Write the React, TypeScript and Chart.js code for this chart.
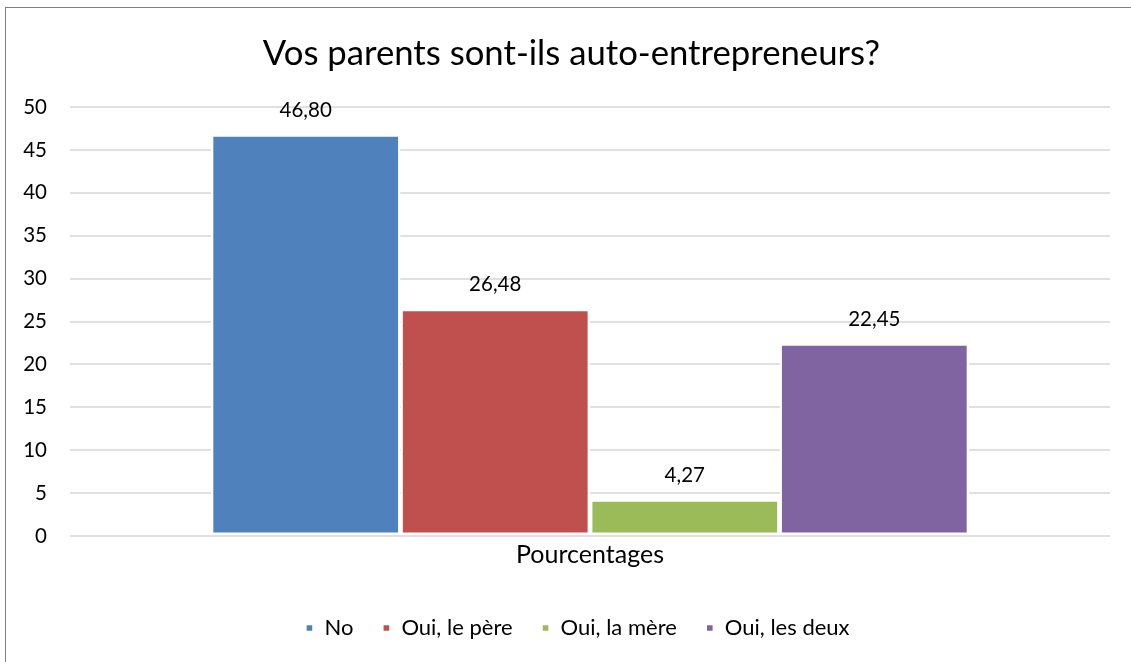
import React, { useEffect, useRef } from 'react';
import { Chart, registerables } from 'chart.js';

Chart.register(...registerables);

const titleText = 'Vos parents sont-ils auto-entrepreneurs?';
const categories = ['Pourcentages'];
const seriesNames = ['No', 'Oui, le père', 'Oui, la mère', 'Oui, les deux'];
const seriesValues = [46.8, 26.48, 4.27, 22.45];
const seriesColors = ['#4F81BD', '#C0504D', '#9BBB59', '#8064A2'];
const yMin = 0;
const yMax = 50;
const yStep = 5;

const FONT = 'Lato';

const fmt = (v: number) => v.toFixed(2).replace('.', ',');

const decorPlugin = {
  id: 'decor',
  beforeDraw(chart: any) {
    const ctx = chart.ctx;
    ctx.save();
    ctx.fillStyle = '#ffffff';
    ctx.fillRect(0, 0, chart.width, chart.height);
    ctx.strokeStyle = '#7f7f7f';
    ctx.lineWidth = 1;
    ctx.strokeRect(5.5, 7.5, 2000, 2000);
    ctx.restore();
  },
  afterLayout(chart: any) {
    if (chart.legend) {
      chart.legend.left += 22.5;
      chart.legend.right += 22.5;
    }
  },
  afterDatasetsDraw(chart: any) {
    const ctx = chart.ctx;
    ctx.save();
    ctx.font = `20.5px ${FONT}`;
    ctx.fillStyle = '#000000';
    ctx.textAlign = 'center';
    ctx.textBaseline = 'middle';
    chart.data.datasets.forEach((ds: any, i: number) => {
      const meta = chart.getDatasetMeta(i);
      meta.data.forEach((bar: any, j: number) => {
        ctx.fillText(fmt(ds.data[j]), bar.x, bar.y - 24);
      });
    });
    ctx.restore();
  },
  afterDraw(chart: any) {
    const ctx = chart.ctx;
    ctx.save();
    ctx.font = `34.7px ${FONT}`;
    ctx.fillStyle = '#000000';
    ctx.textAlign = 'center';
    ctx.textBaseline = 'middle';
    ctx.fillText(titleText, 571.5, 54);
    ctx.restore();
  },
};

export default function App() {
  const ref = useRef<HTMLCanvasElement>(null);

  useEffect(() => {
    if (!ref.current) return;
    const chart = new Chart(ref.current, {
      type: 'bar',
      data: {
        labels: categories,
        datasets: seriesNames.map((name, i) => ({
          label: name,
          data: [seriesValues[i]],
          backgroundColor: seriesColors[i],
          borderColor: '#ffffff',
          borderWidth: 2.4,
          borderSkipped: false,
          categoryPercentage: 0.729,
          barPercentage: 1,
        })),
      },
      options: {
        animation: false,
        responsive: false,
        devicePixelRatio: 1,
        layout: { padding: { top: 107, right: 21, bottom: 13, left: 0 } },
        plugins: {
          title: { display: false },
          tooltip: { enabled: false },
          legend: {
            display: true,
            position: 'bottom',
            labels: {
              font: { family: FONT, size: 22 },
              color: '#000000',
              boxWidth: 8,
              boxHeight: 8,
              padding: 29,
            },
          },
        },
        scales: {
          x: {
            grid: { display: false, drawTicks: false },
            border: { display: false },
            ticks: { font: { family: FONT, size: 25 }, color: '#000000', padding: 4 },
            afterFit: (s: any) => { s.height = 52; },
          },
          y: {
            min: yMin,
            max: yMax,
            ticks: { stepSize: yStep, font: { family: FONT, size: 20.5 }, color: '#000000', padding: 23 },
            grid: { color: '#e0e0e0', lineWidth: 2, drawTicks: false },
            border: { display: false },
            afterFit: (s: any) => { s.width = 70; },
          },
        },
      },
      plugins: [decorPlugin],
    });
    return () => chart.destroy();
  }, []);

  return (
    <div style={{ position: 'fixed', left: 0, top: 0, width: 1131, height: 662, background: '#fff' }}>
      <canvas ref={ref} width={1131} height={662} style={{ width: 1131, height: 662, display: 'block' }} />
    </div>
  );
}
